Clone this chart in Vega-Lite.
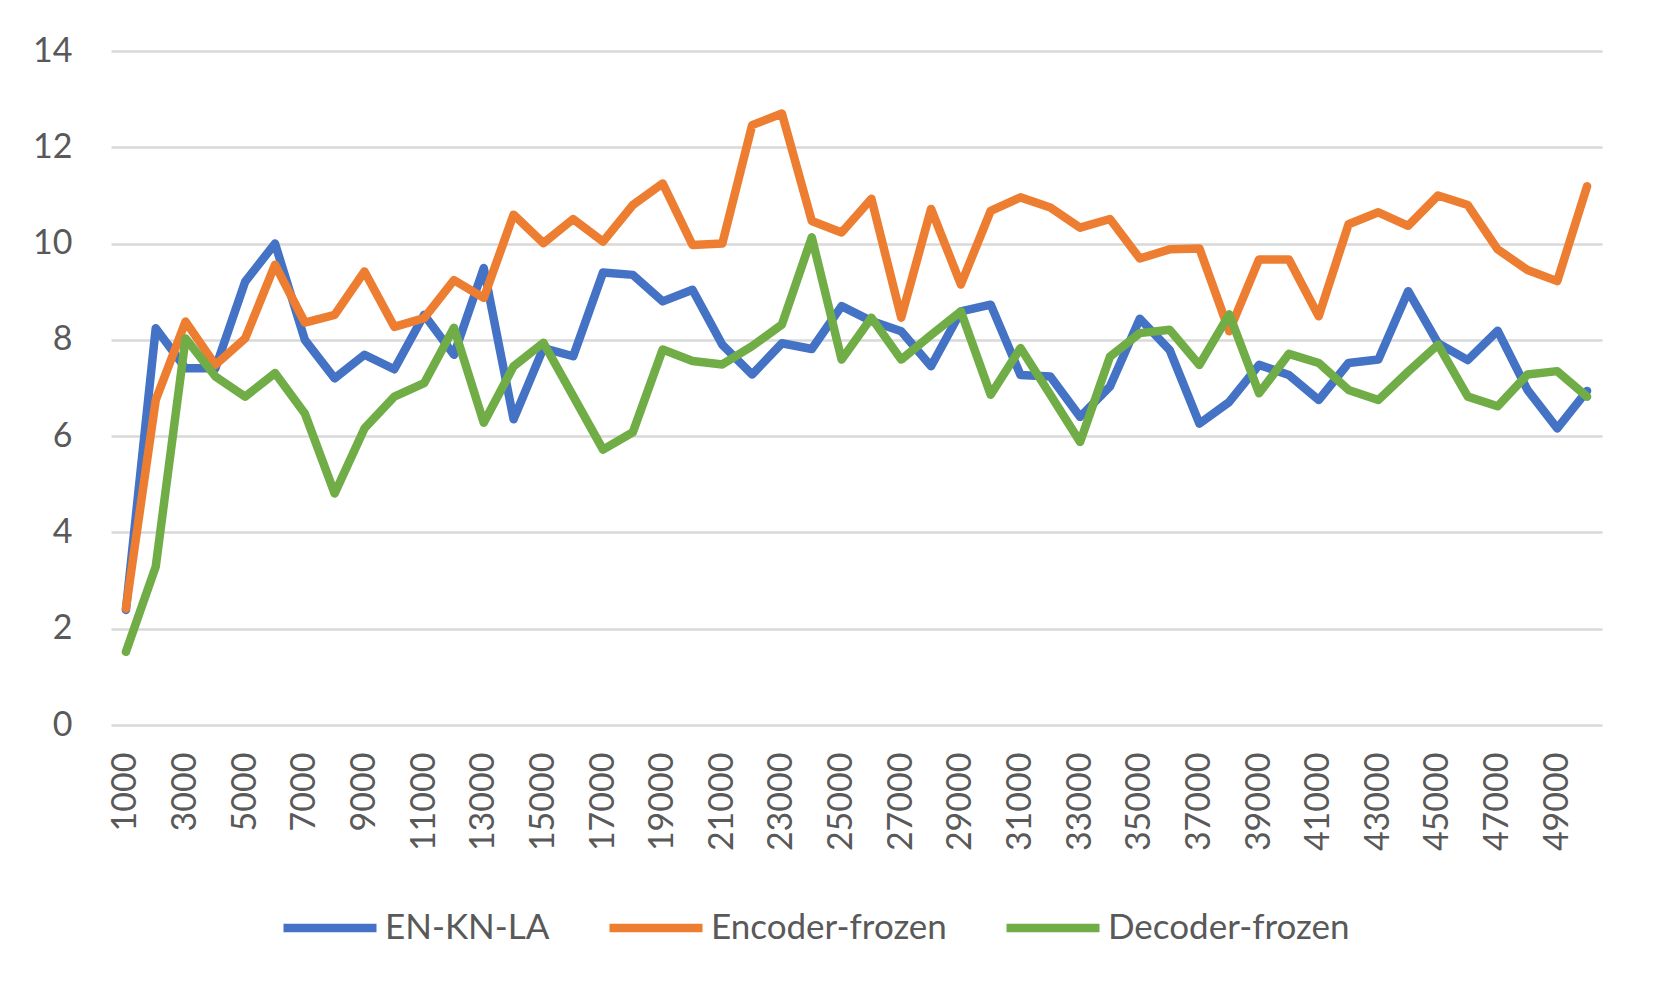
{
  "$schema": "https://vega.github.io/schema/vega-lite/v6.json",
  "background": "white",
  "autosize": {"type": "none"},
  "width": 1491,
  "height": 674,
  "padding": {"left": 111, "top": 51, "right": 51, "bottom": 268},
  "data": {
    "values": [
      {"step": 1000, "EN-KN-LA": 2.39, "Encoder-frozen": 2.42, "Decoder-frozen": 1.52},
      {"step": 2000, "EN-KN-LA": 8.24, "Encoder-frozen": 6.75, "Decoder-frozen": 3.29},
      {"step": 3000, "EN-KN-LA": 7.41, "Encoder-frozen": 8.38, "Decoder-frozen": 8.03},
      {"step": 4000, "EN-KN-LA": 7.41, "Encoder-frozen": 7.48, "Decoder-frozen": 7.24},
      {"step": 5000, "EN-KN-LA": 9.21, "Encoder-frozen": 8.03, "Decoder-frozen": 6.82},
      {"step": 6000, "EN-KN-LA": 10.0, "Encoder-frozen": 9.56, "Decoder-frozen": 7.31},
      {"step": 7000, "EN-KN-LA": 8.0, "Encoder-frozen": 8.36, "Decoder-frozen": 6.47},
      {"step": 8000, "EN-KN-LA": 7.2, "Encoder-frozen": 8.52, "Decoder-frozen": 4.81},
      {"step": 9000, "EN-KN-LA": 7.69, "Encoder-frozen": 9.42, "Decoder-frozen": 6.16},
      {"step": 10000, "EN-KN-LA": 7.39, "Encoder-frozen": 8.27, "Decoder-frozen": 6.82},
      {"step": 11000, "EN-KN-LA": 8.52, "Encoder-frozen": 8.45, "Decoder-frozen": 7.1},
      {"step": 12000, "EN-KN-LA": 7.69, "Encoder-frozen": 9.24, "Decoder-frozen": 8.25},
      {"step": 13000, "EN-KN-LA": 9.49, "Encoder-frozen": 8.87, "Decoder-frozen": 6.28},
      {"step": 14000, "EN-KN-LA": 6.35, "Encoder-frozen": 10.6, "Decoder-frozen": 7.45},
      {"step": 15000, "EN-KN-LA": 7.83, "Encoder-frozen": 10.01, "Decoder-frozen": 7.94},
      {"step": 16000, "EN-KN-LA": 7.66, "Encoder-frozen": 10.51, "Decoder-frozen": 6.83},
      {"step": 17000, "EN-KN-LA": 9.4, "Encoder-frozen": 10.04, "Decoder-frozen": 5.72},
      {"step": 18000, "EN-KN-LA": 9.35, "Encoder-frozen": 10.8, "Decoder-frozen": 6.08},
      {"step": 19000, "EN-KN-LA": 8.8, "Encoder-frozen": 11.25, "Decoder-frozen": 7.8},
      {"step": 20000, "EN-KN-LA": 9.04, "Encoder-frozen": 9.97, "Decoder-frozen": 7.56},
      {"step": 21000, "EN-KN-LA": 7.9, "Encoder-frozen": 10.0, "Decoder-frozen": 7.49},
      {"step": 22000, "EN-KN-LA": 7.28, "Encoder-frozen": 12.46, "Decoder-frozen": 7.87},
      {"step": 23000, "EN-KN-LA": 7.93, "Encoder-frozen": 12.7, "Decoder-frozen": 8.32},
      {"step": 24000, "EN-KN-LA": 7.81, "Encoder-frozen": 10.47, "Decoder-frozen": 10.13},
      {"step": 25000, "EN-KN-LA": 8.7, "Encoder-frozen": 10.23, "Decoder-frozen": 7.59},
      {"step": 26000, "EN-KN-LA": 8.39, "Encoder-frozen": 10.93, "Decoder-frozen": 8.46},
      {"step": 27000, "EN-KN-LA": 8.18, "Encoder-frozen": 8.46, "Decoder-frozen": 7.59},
      {"step": 28000, "EN-KN-LA": 7.45, "Encoder-frozen": 10.72, "Decoder-frozen": 8.1},
      {"step": 29000, "EN-KN-LA": 8.59, "Encoder-frozen": 9.15, "Decoder-frozen": 8.59},
      {"step": 30000, "EN-KN-LA": 8.73, "Encoder-frozen": 10.68, "Decoder-frozen": 6.86},
      {"step": 31000, "EN-KN-LA": 7.27, "Encoder-frozen": 10.96, "Decoder-frozen": 7.83},
      {"step": 32000, "EN-KN-LA": 7.24, "Encoder-frozen": 10.75, "Decoder-frozen": 6.86},
      {"step": 33000, "EN-KN-LA": 6.4, "Encoder-frozen": 10.33, "Decoder-frozen": 5.88},
      {"step": 34000, "EN-KN-LA": 7.03, "Encoder-frozen": 10.51, "Decoder-frozen": 7.65},
      {"step": 35000, "EN-KN-LA": 8.44, "Encoder-frozen": 9.69, "Decoder-frozen": 8.14},
      {"step": 36000, "EN-KN-LA": 7.79, "Encoder-frozen": 9.88, "Decoder-frozen": 8.21},
      {"step": 37000, "EN-KN-LA": 6.26, "Encoder-frozen": 9.9, "Decoder-frozen": 7.48},
      {"step": 38000, "EN-KN-LA": 6.71, "Encoder-frozen": 8.18, "Decoder-frozen": 8.53},
      {"step": 39000, "EN-KN-LA": 7.48, "Encoder-frozen": 9.67, "Decoder-frozen": 6.89},
      {"step": 40000, "EN-KN-LA": 7.27, "Encoder-frozen": 9.67, "Decoder-frozen": 7.71},
      {"step": 41000, "EN-KN-LA": 6.75, "Encoder-frozen": 8.49, "Decoder-frozen": 7.52},
      {"step": 42000, "EN-KN-LA": 7.52, "Encoder-frozen": 10.4, "Decoder-frozen": 6.96},
      {"step": 43000, "EN-KN-LA": 7.59, "Encoder-frozen": 10.65, "Decoder-frozen": 6.75},
      {"step": 44000, "EN-KN-LA": 9.01, "Encoder-frozen": 10.37, "Decoder-frozen": 7.34},
      {"step": 45000, "EN-KN-LA": 7.93, "Encoder-frozen": 11.0, "Decoder-frozen": 7.9},
      {"step": 46000, "EN-KN-LA": 7.58, "Encoder-frozen": 10.8, "Decoder-frozen": 6.82},
      {"step": 47000, "EN-KN-LA": 8.19, "Encoder-frozen": 9.88, "Decoder-frozen": 6.62},
      {"step": 48000, "EN-KN-LA": 6.96, "Encoder-frozen": 9.45, "Decoder-frozen": 7.28},
      {"step": 49000, "EN-KN-LA": 6.16, "Encoder-frozen": 9.22, "Decoder-frozen": 7.35},
      {"step": 50000, "EN-KN-LA": 6.94, "Encoder-frozen": 11.19, "Decoder-frozen": 6.82}
    ]
  },
  "transform": [
    {"fold": ["EN-KN-LA", "Encoder-frozen", "Decoder-frozen"], "as": ["series", "value"]}
  ],
  "mark": {"type": "line", "strokeWidth": 8.5, "strokeCap": "round", "strokeJoin": "round"},
  "encoding": {
    "x": {
      "field": "step",
      "type": "ordinal",
      "sort": "ascending",
      "scale": {"type": "point", "padding": 0.5},
      "axis": {
        "title": null,
        "values": [1000, 3000, 5000, 7000, 9000, 11000, 13000, 15000, 17000, 19000, 21000, 23000, 25000, 27000, 29000, 31000, 33000, 35000, 37000, 39000, 41000, 43000, 45000, 47000, 49000],
        "labelAngle": -90,
        "labelPadding": 27,
        "ticks": false,
        "domain": false,
        "grid": false
      }
    },
    "y": {
      "field": "value",
      "type": "quantitative",
      "scale": {"domain": [0, 14], "nice": false},
      "axis": {
        "title": null,
        "values": [0, 2, 4, 6, 8, 10, 12, 14],
        "labelPadding": 39,
        "ticks": false,
        "domain": false,
        "grid": true,
        "gridColor": "#d9d9d9",
        "gridWidth": 2.5
      }
    },
    "color": {
      "field": "series",
      "type": "nominal",
      "sort": ["EN-KN-LA", "Encoder-frozen", "Decoder-frozen"],
      "scale": {
        "domain": ["EN-KN-LA", "Encoder-frozen", "Decoder-frozen"],
        "range": ["#4472C4", "#ED7D31", "#70AD47"]
      },
      "legend": {
        "title": null,
        "orient": "none",
        "direction": "horizontal",
        "legendX": 168,
        "legendY": 826,
        "symbolType": "stroke",
        "symbolStrokeWidth": 8.5,
        "symbolSize": 8649,
        "labelOffset": 4,
        "columnPadding": 42
      }
    }
  },
  "config": {
    "font": "Lato",
    "view": {"stroke": null},
    "axis": {"labelFontSize": 34, "labelColor": "#595959", "labelFont": "Lato"},
    "legend": {"labelFontSize": 35, "labelColor": "#595959", "labelFont": "Lato", "labelLimit": 0}
  }
}
